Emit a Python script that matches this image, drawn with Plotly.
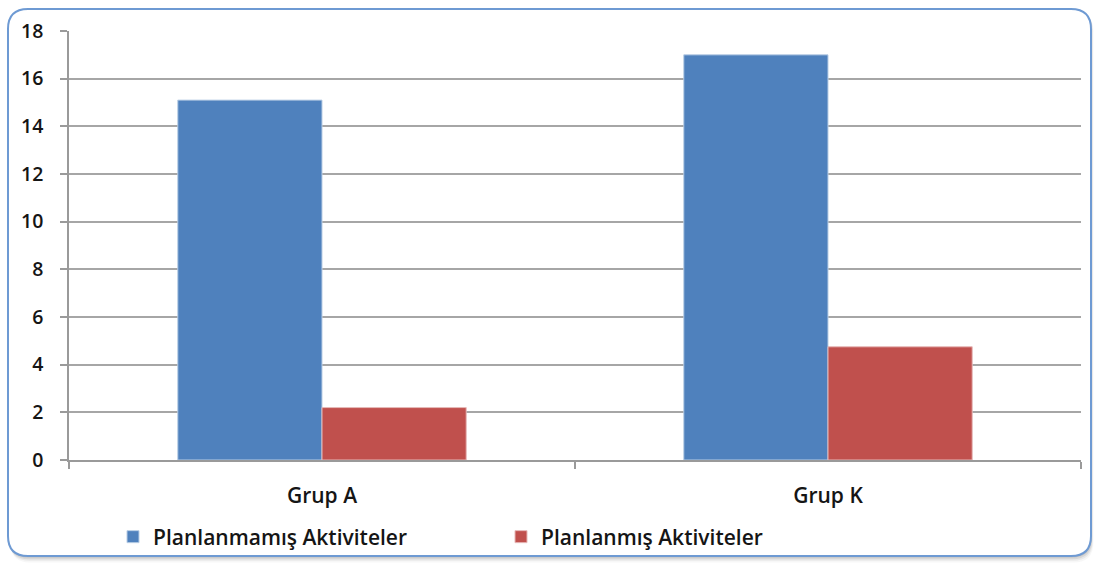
import plotly.graph_objects as go

# Chart data
groups = ["Grup A", "Grup K"]
unplanned = [15.1, 17.0]
planned = [2.2, 4.75]
series_names = ["Planlanmamış Aktiviteler", "Planlanmış Aktiviteler"]
y_ticks = [0, 2, 4, 6, 8, 10, 12, 14, 16, 18]

W, H = 1094, 564
ML, MR, MT, MB = 69, 13, 31, 104
PW, PH = W - ML - MR, H - MT - MB


def px_x(x):
    return (x - ML) / PW


def px_y(y):
    return (H - MB - y) / PH


def rounded_rect(x0, y0, x1, y1, r):
    """Rounded rectangle path in paper units from pixel corners."""
    X = lambda v: f"{px_x(v):.5f}"
    Y = lambda v: f"{px_y(v):.5f}"
    return (
        f"M{X(x0 + r)},{Y(y0)} L{X(x1 - r)},{Y(y0)} "
        f"Q{X(x1)},{Y(y0)} {X(x1)},{Y(y0 + r)} "
        f"L{X(x1)},{Y(y1 - r)} Q{X(x1)},{Y(y1)} {X(x1 - r)},{Y(y1)} "
        f"L{X(x0 + r)},{Y(y1)} Q{X(x0)},{Y(y1)} {X(x0)},{Y(y1 - r)} "
        f"L{X(x0)},{Y(y0 + r)} Q{X(x0)},{Y(y0)} {X(x0 + r)},{Y(y0)} Z"
    )


FONT = "'Open Sans', Lato, sans-serif"
TEXT = "#151515"

fig = go.Figure()
fig.add_trace(go.Bar(
    x=groups, y=unplanned, name=series_names[0],
    marker=dict(color="#4F81BD", line=dict(color="#B9CDE5", width=1)),
))
fig.add_trace(go.Bar(
    x=groups, y=planned, name=series_names[1],
    marker=dict(color="#C0504D", line=dict(color="#E6B9B8", width=1)),
))

# Frame with soft drop shadow
shapes = []
for off, op in [(8, 0.04), (6, 0.07), (4, 0.10), (2, 0.14)]:
    shapes.append(dict(
        type="path", xref="paper", yref="paper", layer="below",
        path=rounded_rect(8 + off * 0.3, 9 + off * 0.3, 1091 + off * 0.3, 556 + off * 0.8, 20),
        fillcolor=f"rgba(60,60,60,{op})", line=dict(width=0),
    ))
shapes.append(dict(
    type="path", xref="paper", yref="paper", layer="below",
    path=rounded_rect(8, 9, 1091, 556, 20),
    fillcolor="#FFFFFF", line=dict(color="#6E9AD3", width=2),
))

fig.update_layout(
    width=W, height=H,
    margin=dict(l=ML, r=MR, t=MT, b=MB, autoexpand=False),
    paper_bgcolor="white",
    plot_bgcolor="rgba(0,0,0,0)",
    barmode="group",
    bargap=0.43,
    bargroupgap=0,
    font=dict(family=FONT, size=19, color=TEXT, weight=600),
    shapes=shapes,
    showlegend=True,
    legend=dict(
        orientation="h", x=px_x(113), xanchor="left",
        y=px_y(537), yanchor="middle",
        font=dict(family=FONT, size=21, color=TEXT, weight=600),
        entrywidth=343, entrywidthmode="pixels",
        bgcolor="rgba(0,0,0,0)",
    ),
    xaxis=dict(
        showgrid=False, showline=True, linecolor="#9a9a9a", linewidth=1.5,
        ticks="outside", ticklen=7, tickcolor="#9a9a9a", tickwidth=1.5,
        tickson="boundaries", ticklabelstandoff=16, automargin=False,
        tickfont=dict(family=FONT, size=21, color=TEXT, weight=600),
    ),
    yaxis=dict(
        range=[0, 18], tickvals=y_ticks,
        showgrid=True, gridcolor="#A6A6A6", gridwidth=1.5,
        showline=True, linecolor="#9a9a9a", linewidth=1.5,
        ticks="outside", ticklen=7, tickcolor="#9a9a9a", tickwidth=1.5,
        ticklabelstandoff=13, zeroline=False, automargin=False,
        tickfont=dict(family=FONT, size=19.5, color=TEXT, weight=600),
    ),
)

fig.write_html("out.html")
